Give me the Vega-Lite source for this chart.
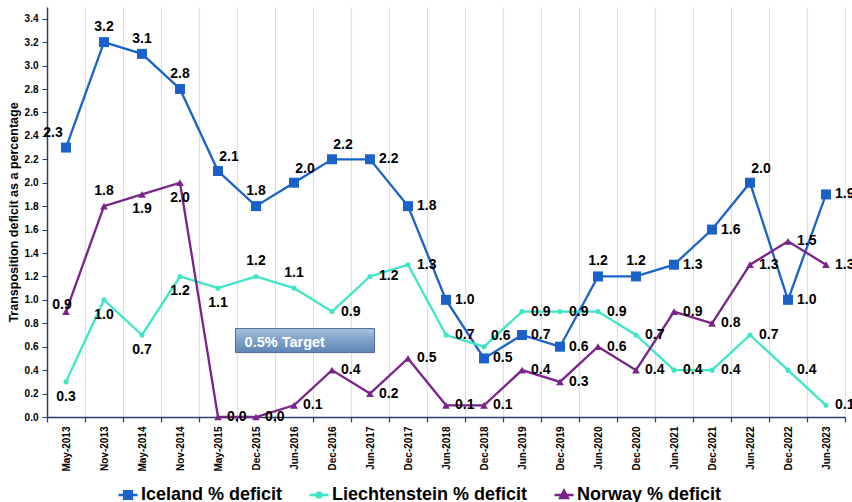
{
  "$schema": "https://vega.github.io/schema/vega-lite/v6.json",
  "width": 798,
  "height": 410,
  "autosize": {"type": "none"},
  "padding": {"left": 47, "top": 7, "right": 7, "bottom": 85},
  "background": "white",
  "config": {"view": {"stroke": null}, "font": "Liberation Sans"},
  "resolve": {"scale": {"x": "independent"}},
  "layer": [
    {
      "data": {"values": [
        {"date": "May-2013", "series": "Iceland % deficit", "value": 2.3},
        {"date": "Nov-2013", "series": "Iceland % deficit", "value": 3.2},
        {"date": "May-2014", "series": "Iceland % deficit", "value": 3.1},
        {"date": "Nov-2014", "series": "Iceland % deficit", "value": 2.8},
        {"date": "May-2015", "series": "Iceland % deficit", "value": 2.1},
        {"date": "Dec-2015", "series": "Iceland % deficit", "value": 1.8},
        {"date": "Jun-2016", "series": "Iceland % deficit", "value": 2.0},
        {"date": "Dec-2016", "series": "Iceland % deficit", "value": 2.2},
        {"date": "Jun-2017", "series": "Iceland % deficit", "value": 2.2},
        {"date": "Dec-2017", "series": "Iceland % deficit", "value": 1.8},
        {"date": "Jun-2018", "series": "Iceland % deficit", "value": 1.0},
        {"date": "Dec-2018", "series": "Iceland % deficit", "value": 0.5},
        {"date": "Jun-2019", "series": "Iceland % deficit", "value": 0.7},
        {"date": "Dec-2019", "series": "Iceland % deficit", "value": 0.6},
        {"date": "Jun-2020", "series": "Iceland % deficit", "value": 1.2},
        {"date": "Dec-2020", "series": "Iceland % deficit", "value": 1.2},
        {"date": "Jun-2021", "series": "Iceland % deficit", "value": 1.3},
        {"date": "Dec-2021", "series": "Iceland % deficit", "value": 1.6},
        {"date": "Jun-2022", "series": "Iceland % deficit", "value": 2.0},
        {"date": "Dec-2022", "series": "Iceland % deficit", "value": 1.0},
        {"date": "Jun-2023", "series": "Iceland % deficit", "value": 1.9},
        {"date": "May-2013", "series": "Liechtenstein % deficit", "value": 0.3},
        {"date": "Nov-2013", "series": "Liechtenstein % deficit", "value": 1.0},
        {"date": "May-2014", "series": "Liechtenstein % deficit", "value": 0.7},
        {"date": "Nov-2014", "series": "Liechtenstein % deficit", "value": 1.2},
        {"date": "May-2015", "series": "Liechtenstein % deficit", "value": 1.1},
        {"date": "Dec-2015", "series": "Liechtenstein % deficit", "value": 1.2},
        {"date": "Jun-2016", "series": "Liechtenstein % deficit", "value": 1.1},
        {"date": "Dec-2016", "series": "Liechtenstein % deficit", "value": 0.9},
        {"date": "Jun-2017", "series": "Liechtenstein % deficit", "value": 1.2},
        {"date": "Dec-2017", "series": "Liechtenstein % deficit", "value": 1.3},
        {"date": "Jun-2018", "series": "Liechtenstein % deficit", "value": 0.7},
        {"date": "Dec-2018", "series": "Liechtenstein % deficit", "value": 0.6},
        {"date": "Jun-2019", "series": "Liechtenstein % deficit", "value": 0.9},
        {"date": "Dec-2019", "series": "Liechtenstein % deficit", "value": 0.9},
        {"date": "Jun-2020", "series": "Liechtenstein % deficit", "value": 0.9},
        {"date": "Dec-2020", "series": "Liechtenstein % deficit", "value": 0.7},
        {"date": "Jun-2021", "series": "Liechtenstein % deficit", "value": 0.4},
        {"date": "Dec-2021", "series": "Liechtenstein % deficit", "value": 0.4},
        {"date": "Jun-2022", "series": "Liechtenstein % deficit", "value": 0.7},
        {"date": "Dec-2022", "series": "Liechtenstein % deficit", "value": 0.4},
        {"date": "Jun-2023", "series": "Liechtenstein % deficit", "value": 0.1},
        {"date": "May-2013", "series": "Norway % deficit", "value": 0.9},
        {"date": "Nov-2013", "series": "Norway % deficit", "value": 1.8},
        {"date": "May-2014", "series": "Norway % deficit", "value": 1.9},
        {"date": "Nov-2014", "series": "Norway % deficit", "value": 2.0},
        {"date": "May-2015", "series": "Norway % deficit", "value": 0.0},
        {"date": "Dec-2015", "series": "Norway % deficit", "value": 0.0},
        {"date": "Jun-2016", "series": "Norway % deficit", "value": 0.1},
        {"date": "Dec-2016", "series": "Norway % deficit", "value": 0.4},
        {"date": "Jun-2017", "series": "Norway % deficit", "value": 0.2},
        {"date": "Dec-2017", "series": "Norway % deficit", "value": 0.5},
        {"date": "Jun-2018", "series": "Norway % deficit", "value": 0.1},
        {"date": "Dec-2018", "series": "Norway % deficit", "value": 0.1},
        {"date": "Jun-2019", "series": "Norway % deficit", "value": 0.4},
        {"date": "Dec-2019", "series": "Norway % deficit", "value": 0.3},
        {"date": "Jun-2020", "series": "Norway % deficit", "value": 0.6},
        {"date": "Dec-2020", "series": "Norway % deficit", "value": 0.4},
        {"date": "Jun-2021", "series": "Norway % deficit", "value": 0.9},
        {"date": "Dec-2021", "series": "Norway % deficit", "value": 0.8},
        {"date": "Jun-2022", "series": "Norway % deficit", "value": 1.3},
        {"date": "Dec-2022", "series": "Norway % deficit", "value": 1.5},
        {"date": "Jun-2023", "series": "Norway % deficit", "value": 1.3}
      ]},
      "encoding": {
        "x": {
          "field": "date", "type": "ordinal",
          "scale": {"type": "band", "paddingInner": 0, "paddingOuter": 0,
            "domain": ["May-2013","Nov-2013","May-2014","Nov-2014","May-2015","Dec-2015","Jun-2016","Dec-2016","Jun-2017","Dec-2017","Jun-2018","Dec-2018","Jun-2019","Dec-2019","Jun-2020","Dec-2020","Jun-2021","Dec-2021","Jun-2022","Dec-2022","Jun-2023"]},
          "axis": {"title": null, "labelAngle": 270, "labelAlign": "right", "labelBaseline": "middle",
            "labelFontWeight": "bold", "labelFontSize": 10, "labelColor": "#000", "labelPadding": 4, "labelOverlap": false,
            "tickBand": "extent", "grid": true, "gridColor": "#dedede", "gridWidth": 1.2,
            "domainColor": "#2e3d63", "domainWidth": 1.5, "tickColor": "#2e3d63", "tickSize": 5, "tickWidth": 1.2}
        },
        "y": {
          "field": "value", "type": "quantitative",
          "scale": {"domain": [0, 3.5], "nice": false},
          "axis": {"title": "Transposition deficit as a percentage",
            "values": [0,0.2,0.4,0.6,0.8,1.0,1.2,1.4,1.6,1.8,2.0,2.2,2.4,2.6,2.8,3.0,3.2,3.4],
            "format": ".1f", "grid": false, "labelFontWeight": "bold", "labelFontSize": 10, "labelColor": "#000",
            "labelOverlap": false, "labelPadding": 4, "tickSize": 5, "tickColor": "#2e3d63", "domainColor": "#2e3d63", "domainWidth": 1.5,
            "titleFontSize": 12.5, "titleFontWeight": "bold", "titleColor": "#000", "titlePadding": 4}
        }
      },
      "layer": [
        {
          "mark": {"type": "line", "strokeWidth": 2.3},
          "encoding": {
            "color": {
              "field": "series", "type": "nominal",
              "scale": {"domain": ["Iceland % deficit", "Liechtenstein % deficit", "Norway % deficit"],
                        "range": ["#1a62c8", "#3ee6c8", "#7a2388"]},
              "legend": {
                "title": null, "orient": "none", "legendX": 70, "legendY": 477, "direction": "horizontal",
                "labelFontSize": 18, "labelFontWeight": "bold", "labelColor": "#000", "labelLimit": 300,
                "labelOffset": 2, "symbolSize": 361, "symbolStrokeWidth": 2.6, "columnPadding": 21,
                "encode": {
                  "symbols": {"update": {
                    "shape": {"signal": "datum.value === 'Iceland % deficit' ? 'M-1,0L1,0M-0.4,-0.4L0.4,-0.4L0.4,0.4L-0.4,0.4Z' : (datum.value === 'Liechtenstein % deficit' ? 'M-1,0L1,0M-0.25,0A0.25,0.25 0 1,0 0.25,0A0.25,0.25 0 1,0 -0.25,0Z' : 'M-1,0L1,0M0,-0.45L0.4,0.3L-0.4,0.3Z')"},
                    "fill": {"signal": "scale('color', datum.value)"},
                    "stroke": {"signal": "scale('color', datum.value)"},
                    "opacity": {"value": 1}
                  }}
                }
              }
            }
          }
        },
        {
          "transform": [{"filter": "datum.series === 'Iceland % deficit'"}],
          "mark": {"type": "point", "shape": "square", "size": 100, "filled": true, "opacity": 1},
          "encoding": {"color": {"field": "series", "type": "nominal"}}
        },
        {
          "transform": [{"filter": "datum.series === 'Liechtenstein % deficit'"}],
          "mark": {"type": "point", "shape": "circle", "size": 26, "filled": true, "opacity": 1},
          "encoding": {"color": {"field": "series", "type": "nominal"}}
        },
        {
          "transform": [{"filter": "datum.series === 'Norway % deficit'"}],
          "mark": {"type": "point", "shape": "triangle-up", "size": 60, "filled": true, "opacity": 1},
          "encoding": {"color": {"field": "series", "type": "nominal"}}
        },
        {
          "data": {"values": [{}]},
          "mark": {"type": "rule", "color": "#000", "strokeWidth": 2.5, "strokeDash": [7, 4]},
          "encoding": {"y": {"datum": 0.5, "type": "quantitative"}, "x": null}
        },
        {
          "transform": [{"filter": "indexof(['I|Nov-2013','I|May-2014','I|Nov-2014','I|Dec-2015','I|Jun-2020','I|Dec-2020','L|Dec-2015','L|Jun-2016','N|Nov-2013'], substring(datum.series,0,1) + '|' + datum.date) >= 0"}],
          "mark": {"type": "text", "fontSize": 14, "fontWeight": "bold", "color": "#000", "align": "center", "baseline": "middle", "dy": -15},
          "encoding": {"text": {"field": "value", "type": "quantitative", "format": ".1f"}}
        },
        {
          "transform": [{"filter": "indexof(['I|May-2015','I|Jun-2016','I|Dec-2016','I|Jun-2022'], substring(datum.series,0,1) + '|' + datum.date) >= 0"}],
          "mark": {"type": "text", "fontSize": 14, "fontWeight": "bold", "color": "#000", "align": "center", "baseline": "middle", "dx": 11, "dy": -14},
          "encoding": {"text": {"field": "value", "type": "quantitative", "format": ".1f"}}
        },
        {
          "transform": [{"filter": "indexof(['I|May-2013'], substring(datum.series,0,1) + '|' + datum.date) >= 0"}],
          "mark": {"type": "text", "fontSize": 14, "fontWeight": "bold", "color": "#000", "align": "center", "baseline": "middle", "dx": -13, "dy": -15},
          "encoding": {"text": {"field": "value", "type": "quantitative", "format": ".1f"}}
        },
        {
          "transform": [{"filter": "indexof(['N|May-2013'], substring(datum.series,0,1) + '|' + datum.date) >= 0"}],
          "mark": {"type": "text", "fontSize": 14, "fontWeight": "bold", "color": "#000", "align": "center", "baseline": "middle", "dx": -4, "dy": -7},
          "encoding": {"text": {"field": "value", "type": "quantitative", "format": ".1f"}}
        },
        {
          "transform": [{"filter": "indexof(['L|Dec-2018'], substring(datum.series,0,1) + '|' + datum.date) >= 0"}],
          "mark": {"type": "text", "fontSize": 14, "fontWeight": "bold", "color": "#000", "align": "left", "baseline": "middle", "dx": 7, "dy": -11},
          "encoding": {"text": {"field": "value", "type": "quantitative", "format": ".1f"}}
        },
        {
          "transform": [{"filter": "indexof(['L|May-2013','L|Nov-2013','L|May-2014','L|Nov-2014','L|May-2015','N|May-2014','N|Nov-2014'], substring(datum.series,0,1) + '|' + datum.date) >= 0"}],
          "mark": {"type": "text", "fontSize": 14, "fontWeight": "bold", "color": "#000", "align": "center", "baseline": "middle", "dy": 15},
          "encoding": {"text": {"field": "value", "type": "quantitative", "format": ".1f"}}
        },
        {
          "transform": [{"filter": "indexof(['I|Nov-2013','I|May-2014','I|Nov-2014','I|Dec-2015','I|Jun-2020','I|Dec-2020','L|Dec-2015','L|Jun-2016','N|Nov-2013','I|May-2015','I|Jun-2016','I|Dec-2016','I|Jun-2022','I|May-2013','N|May-2013','L|Dec-2018','L|May-2013','L|Nov-2013','L|May-2014','L|Nov-2014','L|May-2015','N|May-2014','N|Nov-2014'], substring(datum.series,0,1) + '|' + datum.date) < 0"}],
          "mark": {"type": "text", "fontSize": 14, "fontWeight": "bold", "color": "#000", "align": "left", "baseline": "middle", "dx": 9},
          "encoding": {"text": {"field": "value", "type": "quantitative", "format": ".1f"}}
        }
      ]
    },
    {
      "data": {"values": [{}]},
      "encoding": {
        "y": {"datum": 0.55, "type": "quantitative",
          "axis": {"title": "Transposition deficit as a percentage",
            "values": [0,0.2,0.4,0.6,0.8,1.0,1.2,1.4,1.6,1.8,2.0,2.2,2.4,2.6,2.8,3.0,3.2,3.4],
            "format": ".1f", "grid": false, "labelFontWeight": "bold", "labelFontSize": 10, "labelColor": "#000",
            "labelOverlap": false, "labelPadding": 4, "tickSize": 5, "tickColor": "#2e3d63", "domainColor": "#2e3d63", "domainWidth": 1.5,
            "titleFontSize": 12.5, "titleFontWeight": "bold", "titleColor": "#000", "titlePadding": 4}}
      },
      "layer": [
        {
          "mark": {"type": "rect", "fill": {"gradient": "linear", "x1": 0, "y1": 0, "x2": 0, "y2": 1,
            "stops": [{"offset": 0, "color": "#a9c4e0"}, {"offset": 0.45, "color": "#7fa3cb"}, {"offset": 1, "color": "#5e86b4"}]},
            "stroke": "#4d6e96", "strokeWidth": 1},
          "encoding": {
            "x": {"datum": 4.46, "type": "quantitative", "scale": {"domain": [-0.5, 20.5], "nice": false, "zero": false}, "axis": null},
            "x2": {"datum": 8.12},
            "y2": {"datum": 0.755}
          }
        },
        {
          "mark": {"type": "text", "fontSize": 14.5, "fontWeight": "bold", "color": "#ffffff", "align": "left", "baseline": "middle", "dy": -10},
          "encoding": {
            "x": {"datum": 4.7, "type": "quantitative", "axis": null},
            "text": {"value": "0.5% Target"}
          }
        }
      ]
    }
  ]
}
